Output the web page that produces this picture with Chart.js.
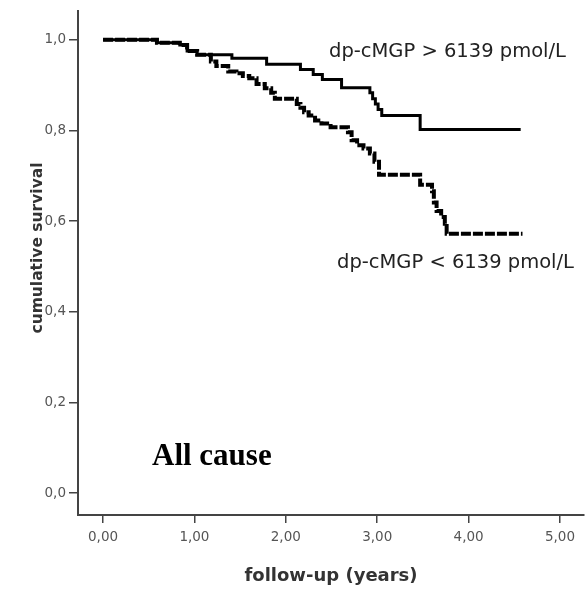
<!DOCTYPE html>
<html>
<head>
<meta charset="utf-8">
<script src="https://cdn.jsdelivr.net/npm/chart.js@4"></script>
<style>
  html, body { margin: 0; padding: 0; background: #fff; }
  #wrap { width: 585px; height: 589px; position: relative; }
</style>
</head>
<body>
<div id="wrap"><canvas id="km" width="585" height="589"></canvas></div>
<script>
// Kaplan-Meier steps: time of drop (years) and survival after it
const highTimes = [0, 0.59, 0.84, 0.92, 1.03, 1.41, 1.79, 2.16, 2.30, 2.40, 2.61, 2.92, 2.95, 2.98, 3.01, 3.05, 3.47, 4.57];
const highSurv  = [1.0, 0.993, 0.988, 0.975, 0.967, 0.959, 0.946, 0.934, 0.923, 0.912, 0.894, 0.883, 0.870, 0.858, 0.846, 0.833, 0.802, 0.802];

const lowTimes = [0, 0.59, 0.84, 0.92, 1.03, 1.18, 1.24, 1.37, 1.46, 1.53, 1.60, 1.68, 1.77, 1.84, 1.88, 2.12, 2.16, 2.20, 2.25,
                  2.32, 2.39, 2.49, 2.68, 2.72, 2.78, 2.85, 2.92, 2.97, 3.02, 3.47, 3.60, 3.62, 3.65, 3.70, 3.74, 3.76, 4.59];
const lowSurv  = [1.0, 0.993, 0.988, 0.975, 0.967, 0.952, 0.942, 0.930, 0.926, 0.920, 0.915, 0.902, 0.893, 0.883, 0.870, 0.858, 0.850, 0.840, 0.833,
                  0.822, 0.815, 0.807, 0.796, 0.778, 0.767, 0.760, 0.749, 0.731, 0.702, 0.680, 0.666, 0.641, 0.622, 0.609, 0.594, 0.572, 0.572];

const xTicks = [0, 1, 2, 3, 4, 5];
const yTicks = [0, 0.2, 0.4, 0.6, 0.8, 1.0];

const highLabel = 'dp-cMGP > 6139 pmol/L';
const lowLabel = 'dp-cMGP < 6139 pmol/L';
const panelTitle = 'All cause';
const xTitle = 'follow-up (years)';
const yTitle = 'cumulative survival';

const toPoints = (ts, ss) => ts.map((t, i) => ({ x: t, y: ss[i] }));

// text that sits inside the plot
const labelPlugin = {
  id: 'kmLabels',
  afterDraw(chart) {
    const ctx = chart.ctx;
    ctx.save();
    ctx.textBaseline = 'alphabetic';
    ctx.fillStyle = '#222';
    ctx.font = '19.5px "DejaVu Sans"';
    ctx.fillText(highLabel, 329, 57);
    ctx.fillText(lowLabel, 337, 268);

    ctx.fillStyle = '#000';
    ctx.font = 'bold 31px "Liberation Serif"';
    ctx.fillText(panelTitle, 152, 465);

    ctx.translate(42, 248);
    ctx.rotate(-Math.PI / 2);
    ctx.textAlign = 'center';
    ctx.fillStyle = '#333';
    ctx.font = 'bold 15.5px "DejaVu Sans"';
    ctx.fillText(yTitle, 0, 0);
    ctx.restore();
  }
};

const axisColor = '#444';
const tickFont = { family: 'DejaVu Sans', size: 13.5 };

new Chart(document.getElementById('km'), {
  type: 'line',
  data: {
    datasets: [
      {
        label: lowLabel,
        data: toPoints(lowTimes, lowSurv),
        stepped: 'before',
        borderColor: '#000',
        borderWidth: 4,
        borderDash: [10, 2],
        pointRadius: 0,
        fill: false
      },
      {
        label: highLabel,
        data: toPoints(highTimes, highSurv),
        stepped: 'before',
        borderColor: '#000',
        borderWidth: 3,
        pointRadius: 0,
        fill: false
      }
    ]
  },
  options: {
    responsive: false,
    devicePixelRatio: 1,
    animation: false,
    layout: { padding: { top: 5, right: 1, left: 0, bottom: 0 } },
    plugins: { legend: { display: false }, tooltip: { enabled: false } },
    scales: {
      x: {
        type: 'linear',
        min: -0.274,
        max: 5.263,
        afterBuildTicks: s => { s.ticks = xTicks.map(v => ({ value: v })); },
        afterFit: s => { s.height = 74; },
        grid: { drawOnChartArea: false, drawTicks: true, tickLength: 8, color: axisColor, lineWidth: 1.5 },
        border: { display: true, color: axisColor, width: 2 },
        ticks: {
          padding: 6, color: '#555', font: tickFont, maxRotation: 0, autoSkip: false,
          callback: v => v.toFixed(2).replace('.', ',')
        },
        title: {
          display: true, text: xTitle, color: '#333',
          font: { family: 'DejaVu Sans', size: 18, weight: 'bold' },
          padding: { top: 0, bottom: 2 }
        }
      },
      y: {
        type: 'linear',
        min: -0.048,
        max: 1.063,
        afterBuildTicks: s => { s.ticks = yTicks.map(v => ({ value: v })); },
        afterFit: s => { s.width = 78; },
        grid: { drawOnChartArea: false, drawTicks: true, tickLength: 9, color: axisColor, lineWidth: 1.5 },
        border: { display: true, color: axisColor, width: 2 },
        ticks: {
          padding: 3, color: '#555', font: tickFont, autoSkip: false,
          callback: v => v.toFixed(1).replace('.', ',')
        }
      }
    }
  },
  plugins: [labelPlugin]
});
</script>
</body>
</html>
